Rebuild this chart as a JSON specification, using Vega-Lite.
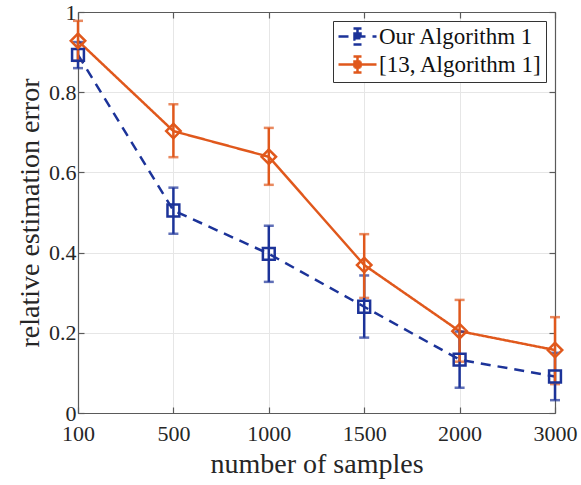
{
  "$schema": "https://vega.github.io/schema/vega-lite/v6.json",
  "width": 477,
  "height": 401,
  "autosize": "none",
  "padding": {"left": 78, "top": 12, "right": 26, "bottom": 72},
  "background": "white",
  "config": {
    "font": "Liberation Serif",
    "view": {"stroke": null},
    "axis": {
      "labelFont": "Liberation Serif",
      "titleFont": "Liberation Serif",
      "labelFontSize": 22,
      "titleFontSize": 28,
      "titleFontWeight": "normal",
      "labelColor": "#262626",
      "titleColor": "#262626",
      "domainColor": "#5a5a5a",
      "domainWidth": 1.2,
      "tickColor": "#5a5a5a",
      "tickWidth": 1.2,
      "gridColor": "#e6e6e6",
      "gridWidth": 1
    },
    "legend": {
      "labelFont": "Liberation Serif",
      "labelFontSize": 23,
      "labelColor": "#111111",
      "labelLimit": 300
    }
  },
  "data": {
    "values": [
      {"alg": "Our Algorithm 1", "n": 100, "mean": 0.893, "lo": 0.86, "hi": 0.925},
      {"alg": "Our Algorithm 1", "n": 500, "mean": 0.505, "lo": 0.447, "hi": 0.562},
      {"alg": "Our Algorithm 1", "n": 1000, "mean": 0.397, "lo": 0.327, "hi": 0.467},
      {"alg": "Our Algorithm 1", "n": 1500, "mean": 0.265, "lo": 0.188, "hi": 0.343},
      {"alg": "Our Algorithm 1", "n": 2000, "mean": 0.133, "lo": 0.063, "hi": 0.203},
      {"alg": "Our Algorithm 1", "n": 3000, "mean": 0.091, "lo": 0.032, "hi": 0.15},
      {"alg": "[13, Algorithm 1]", "n": 100, "mean": 0.928, "lo": 0.878, "hi": 0.978},
      {"alg": "[13, Algorithm 1]", "n": 500, "mean": 0.703, "lo": 0.638, "hi": 0.77},
      {"alg": "[13, Algorithm 1]", "n": 1000, "mean": 0.639, "lo": 0.569, "hi": 0.711},
      {"alg": "[13, Algorithm 1]", "n": 1500, "mean": 0.369, "lo": 0.287, "hi": 0.446},
      {"alg": "[13, Algorithm 1]", "n": 2000, "mean": 0.204, "lo": 0.128, "hi": 0.282},
      {"alg": "[13, Algorithm 1]", "n": 3000, "mean": 0.157, "lo": 0.072, "hi": 0.239}
    ]
  },
  "resolve": {"axis": {"x": "independent", "y": "independent"}},
  "layer": [
    {
      "mark": {"type": "rule", "opacity": 0},
      "encoding": {
        "x": {"field": "n", "type": "ordinal", "sort": "ascending",
              "scale": {"type": "point", "padding": 0},
              "axis": {"orient": "top", "labels": false, "title": null, "grid": false, "tickSize": -6}},
        "y": {"field": "mean", "type": "quantitative",
              "scale": {"domain": [0, 1]},
              "axis": {"orient": "right", "labels": false, "title": null, "grid": false, "tickSize": -6, "values": [0, 0.2, 0.4, 0.6, 0.8, 1]}}
      }
    },
    {
      "layer": [
        {
          "mark": {"type": "line", "strokeWidth": 2.5},
          "encoding": {
            "x": {"field": "n", "type": "ordinal", "sort": "ascending", "title": "number of samples",
                  "scale": {"type": "point", "padding": 0},
                  "axis": {"orient": "bottom", "labelAngle": 0, "grid": true, "tickSize": -6, "labelPadding": 16, "titlePadding": 6}},
            "y": {"field": "mean", "type": "quantitative", "title": "relative estimation error",
                  "scale": {"domain": [0, 1]},
                  "axis": {"orient": "left", "grid": true, "tickSize": -6, "values": [0, 0.2, 0.4, 0.6, 0.8, 1], "format": "~g", "labelPadding": 8, "titlePadding": 4}},
            "color": {"field": "alg", "type": "nominal",
                      "scale": {"domain": ["Our Algorithm 1", "[13, Algorithm 1]"], "range": ["#1c3399", "#e0581c"]},
                      "legend": {
                        "title": null,
                        "orient": "top-right",
                        "offset": 9,
                        "padding": 4,
                        "strokeColor": "#333333",
                        "fillColor": "white",
                        "symbolType": "M-1.9,0H1.9M0,-0.8V0.8M-0.4,-0.8H0.4M-0.4,0.8H0.4M-0.3,-0.3H0.3V0.3H-0.3Z",
                        "symbolSize": 400,
                        "symbolStrokeWidth": 2.5,
                        "symbolOffset": 9,
                        "rowPadding": 1,
                        "labelOffset": 10,
                        "labelLimit": 300,
                        "encode": {"symbols": {"update": {
                          "fill": {"scale": "color", "field": "value"},
                          "stroke": {"scale": "color", "field": "value"}
                        }}}
                      }},
            "strokeDash": {"field": "alg", "type": "nominal",
                           "scale": {"domain": ["Our Algorithm 1", "[13, Algorithm 1]"], "range": [[10, 7], [1, 0]]},
                           "legend": null}
          }
        },
        {
          "mark": {"type": "errorbar", "thickness": 2.5, "ticks": {"size": 10, "thickness": 2.5}},
          "encoding": {
            "x": {"field": "n", "type": "ordinal", "sort": "ascending", "title": "number of samples"},
            "y": {"field": "lo", "type": "quantitative", "title": "relative estimation error"},
            "y2": {"field": "hi"},
            "color": {"field": "alg", "type": "nominal"}
          }
        },
        {
          "transform": [{"filter": "datum.alg === 'Our Algorithm 1'"}],
          "mark": {"type": "point", "shape": "square", "size": 140, "filled": false, "strokeWidth": 2.5, "opacity": 1},
          "encoding": {
            "x": {"field": "n", "type": "ordinal", "sort": "ascending", "title": "number of samples"},
            "y": {"field": "mean", "type": "quantitative", "title": "relative estimation error"},
            "color": {"field": "alg", "type": "nominal"}
          }
        },
        {
          "transform": [{"filter": "datum.alg !== 'Our Algorithm 1'"}],
          "mark": {"type": "point", "shape": "diamond", "size": 210, "filled": false, "strokeWidth": 2.5, "opacity": 1},
          "encoding": {
            "x": {"field": "n", "type": "ordinal", "sort": "ascending", "title": "number of samples"},
            "y": {"field": "mean", "type": "quantitative", "title": "relative estimation error"},
            "color": {"field": "alg", "type": "nominal"}
          }
        }
      ]
    }
  ]
}
